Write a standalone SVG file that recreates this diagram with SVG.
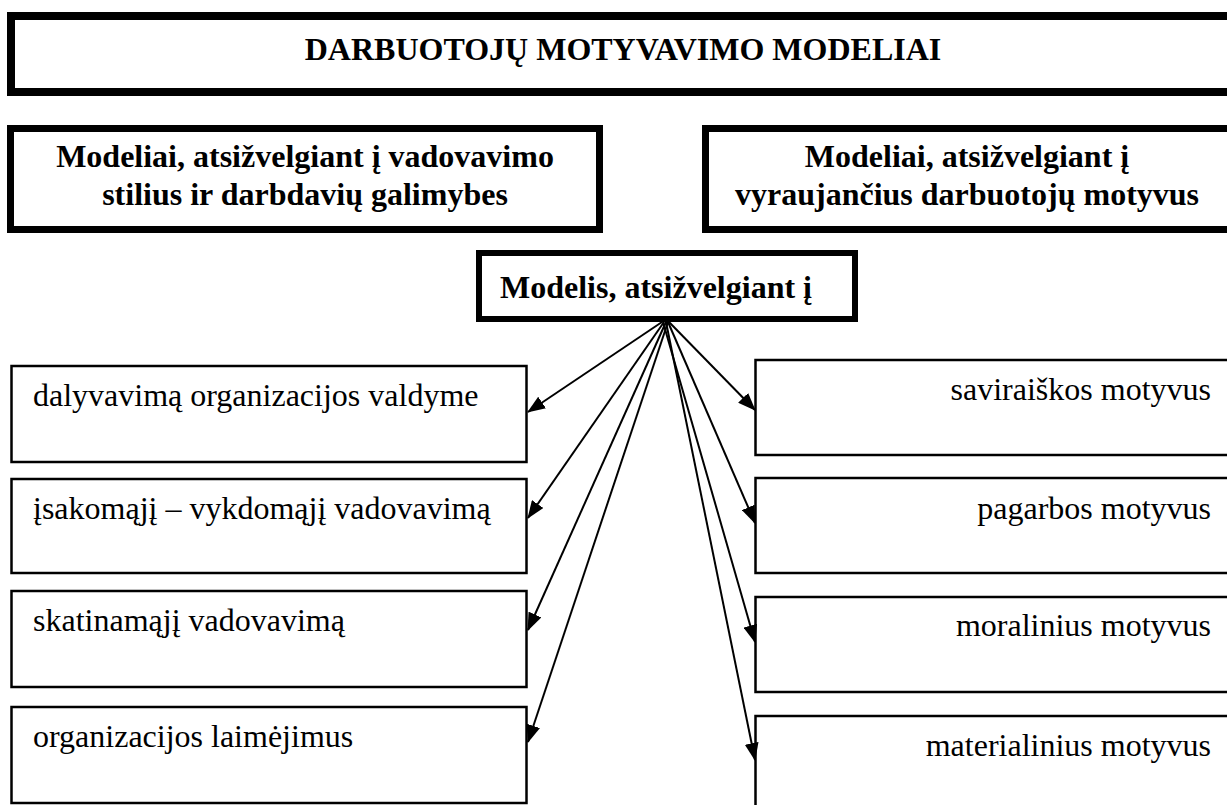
<svg xmlns="http://www.w3.org/2000/svg" width="1227" height="805" viewBox="0 0 1227 805" font-family="Liberation Serif, DejaVu Serif, serif">
<style>
.thick{fill:#fff;stroke:#000;stroke-width:8}
.mid{fill:#fff;stroke:#000;stroke-width:7}
.thin{fill:#fff;stroke:#000;stroke-width:2.5}
.c{stroke:#000;stroke-width:2;fill:none;marker-end:url(#ah)}
</style>
<defs>
<marker id="ah" markerUnits="userSpaceOnUse" markerWidth="18" markerHeight="14" refX="17" refY="7" orient="auto">
<path d="M0,0 L18,7 L0,14 Z" fill="#000"/>
</marker>
</defs>
<rect width="1227" height="805" fill="#fff"/>
<g font-family="Liberation Serif, DejaVu Serif, serif" font-size="32" font-weight="bold" fill="#000">
<g id="title">
<rect class="thick" x="11" y="16" width="1230" height="76"/>
<text x="623" y="60" text-anchor="middle">DARBUOTOJŲ MOTYVAVIMO MODELIAI</text>
</g>
<g id="left-header">
<rect class="mid" x="10.5" y="128.5" width="589" height="101"/>
<text x="305" y="167" text-anchor="middle">Modeliai, atsižvelgiant į vadovavimo</text>
<text x="305" y="205" text-anchor="middle">stilius ir darbdavių galimybes</text>
</g>
<g id="right-header">
<rect class="mid" x="705.5" y="128.5" width="540" height="101"/>
<text x="967" y="167" text-anchor="middle">Modeliai, atsižvelgiant į</text>
<text x="967" y="205" text-anchor="middle">vyraujančius darbuotojų motyvus</text>
</g>
<g id="center">
<rect class="mid" x="479" y="253" width="376" height="66" style="stroke-width:6"/>
<text x="656" y="298" text-anchor="middle">Modelis, atsižvelgiant į</text>
</g>
</g>
<g font-family="Liberation Serif, DejaVu Serif, serif" font-size="32" fill="#000">
<g id="l1">
<rect class="thin" x="11.5" y="366" width="515" height="96"/>
<text x="33" y="406">dalyvavimą organizacijos valdyme</text>
</g>
<g id="l2">
<rect class="thin" x="11.5" y="479" width="515" height="94"/>
<text x="33" y="519">įsakomąjį – vykdomąjį vadovavimą</text>
</g>
<g id="l3">
<rect class="thin" x="11.5" y="591" width="515" height="96"/>
<text x="33" y="631">skatinamąjį vadovavimą</text>
</g>
<g id="l4">
<rect class="thin" x="11.5" y="707" width="515" height="96"/>
<text x="33" y="747">organizacijos laimėjimus</text>
</g>
<g id="r1">
<rect class="thin" x="755.5" y="360" width="500" height="95"/>
<text x="1211" y="400" text-anchor="end">saviraiškos motyvus</text>
</g>
<g id="r2">
<rect class="thin" x="755.5" y="478" width="500" height="95"/>
<text x="1211" y="519" text-anchor="end">pagarbos motyvus</text>
</g>
<g id="r3">
<rect class="thin" x="755.5" y="597" width="500" height="95"/>
<text x="1211" y="636" text-anchor="end">moralinius motyvus</text>
</g>
<g id="r4">
<rect class="thin" x="755.5" y="716" width="500" height="110"/>
<text x="1211" y="756" text-anchor="end">materialinius motyvus</text>
</g>
</g>
<g id="connectors">
<line class="c" x1="662" y1="322" x2="528" y2="412"/>
<line class="c" x1="664" y1="322" x2="528" y2="518"/>
<line class="c" x1="666" y1="322" x2="528" y2="630"/>
<line class="c" x1="668" y1="322" x2="528" y2="742"/>
<line class="c" x1="669" y1="322" x2="755" y2="410"/>
<line class="c" x1="668" y1="322" x2="755" y2="523"/>
<line class="c" x1="663" y1="322" x2="755" y2="642"/>
<line class="c" x1="666" y1="322" x2="755" y2="760"/>
</g>
</svg>
